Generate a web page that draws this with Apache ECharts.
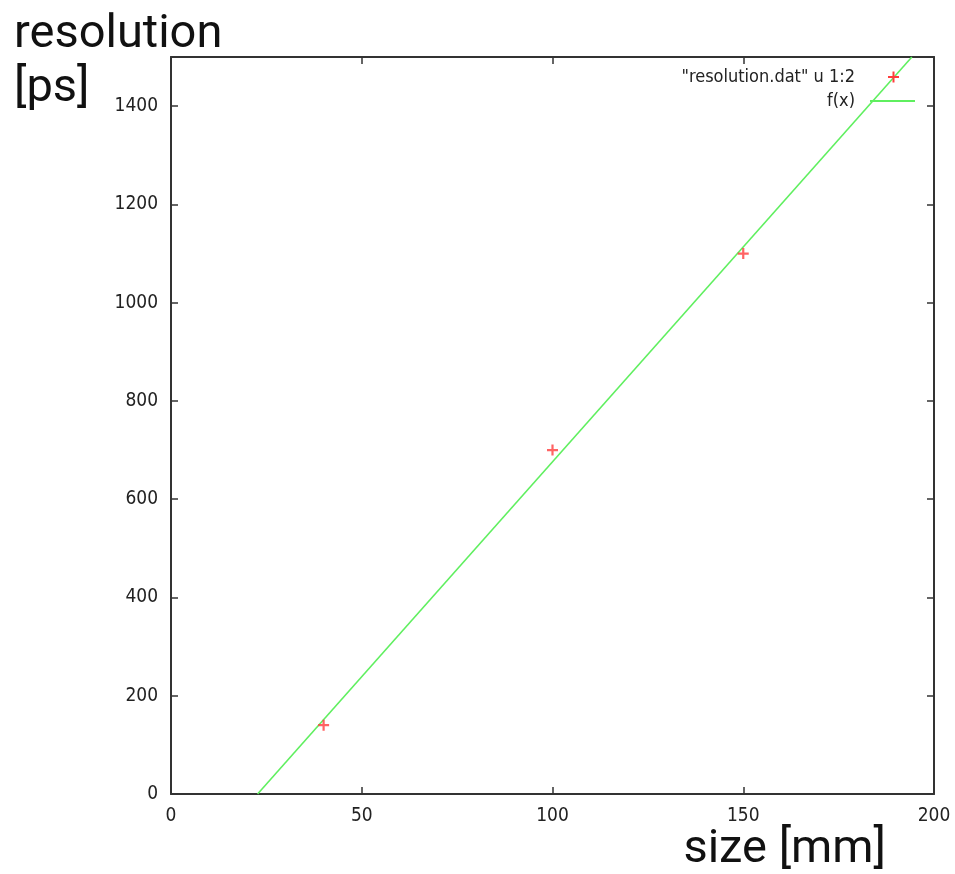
<!DOCTYPE html>
<html>
<head>
<meta charset="utf-8">
<script src="https://cdn.jsdelivr.net/npm/echarts@6/dist/echarts.min.js"></script>
<style>
html,body{margin:0;padding:0;background:#fff;}
#chart{width:955px;height:874px;}
</style>
</head>
<body>
<div id="chart"></div>
<script>
// measured data points (size [mm], resolution [ps])
const sizeMm = [40, 100, 150];
const resolutionPs = [140, 700, 1100];
// fitted line f(x), end points
const fitX = [22.7, 194.2];
const fitY = [0, 1500];
// axis ticks
const xTicks = [0, 50, 100, 150, 200];
const yTicks = [0, 200, 400, 600, 800, 1000, 1200, 1400];
const legendNames = ['"resolution.dat" u 1:2', 'f(x)'];

const tickFont = 'DejaVu Sans Condensed, DejaVu Sans, sans-serif';
const axisCol = '#333333';

const chart = echarts.init(document.getElementById('chart'), null, {renderer: 'canvas'});

function xAx(pos, show) {
  return {
    type: 'value', position: pos, min: xTicks[0], max: xTicks[xTicks.length - 1], interval: 50,
    axisLine: {show: true, onZero: false, lineStyle: {color: axisCol, width: 2}},
    axisTick: {show: true, inside: true, length: 7, lineStyle: {color: axisCol, width: 1.5}},
    axisLabel: {show: show, color: '#222', fontFamily: tickFont, fontSize: 19, margin: 13},
    splitLine: {show: false}
  };
}
function yAx(pos, show) {
  return {
    type: 'value', position: pos, min: 0, max: 1500, interval: 200,
    axisLine: {show: true, onZero: false, lineStyle: {color: axisCol, width: 2}},
    axisTick: {show: true, inside: true, length: 7, lineStyle: {color: axisCol, width: 1.5}},
    axisLabel: {show: show, showMaxLabel: false, color: '#222', fontFamily: tickFont, fontSize: 19, margin: 13,
      formatter: v => (yTicks.indexOf(v) >= 0 ? String(v) : '')},
    splitLine: {show: false}
  };
}

const plusPath = 'path://M4,0H6V4H10V6H6V10H4V6H0V4H4Z';

chart.setOption({
  backgroundColor: '#ffffff',
  animation: false,
  grid: {left: 171, right: 21, top: 57, bottom: 80, containLabel: false},
  xAxis: [xAx('bottom', true), xAx('top', false)],
  yAxis: [yAx('left', true), yAx('right', false)],
  series: [
    {
      name: legendNames[1], type: 'line', xAxisIndex: 0, yAxisIndex: 0,
      data: fitX.map((x, i) => [x, fitY[i]]),
      showSymbol: false, symbol: 'none',
      lineStyle: {color: '#5fef5f', width: 1.6},
      clip: true, z: 2
    },
    {
      name: legendNames[0], type: 'scatter', xAxisIndex: 0, yAxisIndex: 0,
      data: sizeMm.map((x, i) => [x, resolutionPs[i]]),
      symbol: plusPath, symbolSize: 11,
      itemStyle: {color: '#ff3c3c'}, z: 3
    }
  ],
  graphic: [
    {type: 'text', x: 14, y: 8, style: {text: 'resolution\n[ps]', font: '47px Roboto, "Liberation Sans", sans-serif', fill: '#111', lineHeight: 54}},
    {type: 'text', x: 886, y: 874, style: {text: 'size [mm]', font: '47px Roboto, "Liberation Sans", sans-serif', fill: '#111', align: 'right', verticalAlign: 'bottom'}},
    {type: 'text', x: 855, y: 77, style: {text: legendNames[0], font: '18px ' + tickFont, fill: '#222', align: 'right', verticalAlign: 'middle'}},
    {type: 'text', x: 855, y: 101, style: {text: legendNames[1], font: '18px ' + tickFont, fill: '#222', align: 'right', verticalAlign: 'middle'}},
    {type: 'rect', shape: {x: 888, y: 76, width: 11, height: 2}, style: {fill: '#ff3c3c'}, z: 10},
    {type: 'rect', shape: {x: 892.5, y: 71.5, width: 2, height: 11}, style: {fill: '#ff3c3c'}, z: 10},
    {type: 'line', shape: {x1: 870, y1: 101, x2: 915, y2: 101}, style: {stroke: '#5fef5f', lineWidth: 2}, z: 10}
  ]
});
</script>
</body>
</html>
